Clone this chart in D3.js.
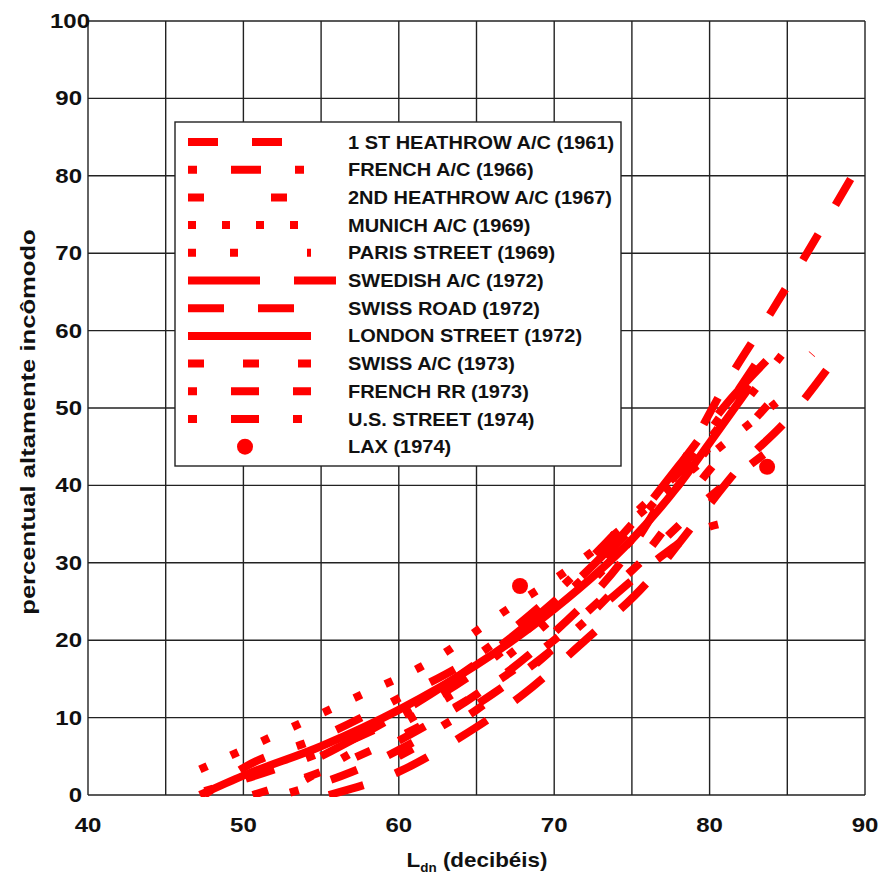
<!DOCTYPE html>
<html>
<head>
<meta charset="utf-8">
<script src="https://cdn.jsdelivr.net/npm/d3@7"></script>
<style>
body { margin: 0; background: #fff; }
text { font-family: Arial, "Liberation Sans", sans-serif; font-weight: bold; fill: #111; }
</style>
</head>
<body>
<div id="chart"></div>
<script>
// values: [Ldn, % highly annoyed]
const heathrow1961 = [[60,7],[65,13],[70,21],[75,32],[78,42],[81.2,53.6],[84,62.5],[89.2,80]];
const frenchAc1966 = [[47.5,0.5],[50,2],[55,5.5],[60,10],[65,16],[70,24.5],[75,34.5],[80,47],[83.4,57]];
const heathrow1967 = [[60,5],[65,11],[70,19],[75,29],[80,42],[84,51],[86.6,57]];
const munich1969 = [[47.2,3.3],[52,7.7],[57,12.4],[62,17.2],[67,24],[70.6,28.7],[75,35.5],[79.1,42.4],[84.3,50.7]];
const parisStreet1969 = [[54,2],[60,9],[65,15],[70,23],[75,33],[80,45],[84.7,57]];
const swedishAc1972 = [[55,5],[60,10.5],[65,17],[70,25],[75,35],[78,42.5],[81.2,50.8],[83.7,56.2]];
const swissRoad1972 = [[55.5,0],[60,3],[64,7.5],[68,13],[72,20],[76,27.5],[79,35],[82,42.5],[85,48.5],[88.3,57]];
const londonStreet1972 = [[47.2,0],[50,2.5],[55,6.3],[60,11],[65,16.8],[70,24],[75,33],[78,40],[80,45.5],[82.5,52.5]];
const swissAc1973 = [[50.6,0],[55,3],[60,7.5],[65,13],[70,20],[75,29],[80,38.5],[83.7,44.3]];
const frenchRr1973 = [[53,0.3],[57,3],[62,8],[66,13],[70,19],[74,26],[77,31],[79.5,34.3],[82.7,35.6]];
const usStreet1974 = [[47.5,0],[50,3.5],[55,7.5],[60,12.5],[65,18],[70,26],[75,36],[80,46],[82.5,53]];
const lax1974 = [[67.8,27],[83.7,42.4]];

const seriesNames = ['1 ST HEATHROW A/C (1961)','FRENCH A/C (1966)','2ND HEATHROW A/C (1967)','MUNICH A/C (1969)',
    'PARIS STREET (1969)','SWEDISH A/C (1972)','SWISS ROAD (1972)','LONDON STREET (1972)',
    'SWISS A/C (1973)','FRENCH RR (1973)','U.S. STREET (1974)','LAX (1974)'];
const seriesValues = [heathrow1961, frenchAc1966, heathrow1967, munich1969, parisStreet1969, swedishAc1972,
    swissRoad1972, londonStreet1972, swissAc1973, frenchRr1973, usStreet1974];
const xTicks = [40,50,60,70,80,90];
const yTicks = [0,10,20,30,40,50,60,70,80,90,100];

// line styles (dash patterns in px)
const dashes = ['30,34','9,34,30,34','16,67','8,26','8,34,8,69','72,34','36,34','none',
    '16,39','9,34,28,34,28,34','9,34,28,34'];

const w = 881, h = 881;
const svg = d3.select('#chart').append('svg').attr('width', w).attr('height', h);

const x = d3.scaleLinear().domain([40, 90]).range([88, 865]);
const y = d3.scaleLinear().domain([0, 100]).range([795, 21]);

// grid
svg.append('g').selectAll('line').data(d3.range(40, 91, 5)).enter().append('line')
    .attr('x1', d => x(d)).attr('x2', d => x(d)).attr('y1', y(0)).attr('y2', y(100))
    .attr('stroke', '#222').attr('stroke-width', 1.4);
svg.append('g').selectAll('line').data(yTicks).enter().append('line')
    .attr('x1', x(40)).attr('x2', x(90)).attr('y1', d => y(d)).attr('y2', d => y(d))
    .attr('stroke', '#222').attr('stroke-width', 1.4);

// tick labels (the reference font is wider than Arial, so stretch it a little)
svg.append('g').selectAll('text').data(xTicks).enter().append('text')
    .attr('transform', d => 'translate(' + x(d) + ',832)scale(1.2,1)')
    .attr('text-anchor', 'middle').style('font-size', '20px').text(d => d);
svg.append('g').selectAll('text').data(yTicks).enter().append('text')
    .attr('transform', d => 'translate(' + (d === 100 ? 90 : 82) + ',' + (y(d) + 7) + ')scale(1.2,1)')
    .attr('text-anchor', 'end').style('font-size', '20px').text(d => d);

// axis titles
const xt = svg.append('text').attr('transform', 'translate(477,867)scale(1.12,1)')
    .attr('text-anchor', 'middle').style('font-size', '20px');
xt.append('tspan').text('L');
xt.append('tspan').attr('dy', 5).style('font-size', '12px').text('dn');
xt.append('tspan').attr('dy', -5).text(' (decibéis)');
svg.append('text').attr('transform', 'translate(35,422)rotate(-90)scale(1.22,1)')
    .attr('text-anchor', 'middle').style('font-size', '21px').text('percentual altamente incômodo');

// curves
svg.append('clipPath').attr('id', 'plot').append('rect')
    .attr('x', x(40)).attr('y', y(100)).attr('width', x(90) - x(40)).attr('height', y(0) - y(100) + 2);
const line = d3.line().x(d => x(d[0])).y(d => y(d[1])).curve(d3.curveMonotoneX);
const plot = svg.append('g').attr('clip-path', 'url(#plot)');
plot.selectAll('path').data(seriesValues).enter().append('path')
    .attr('d', line).attr('fill', 'none').attr('stroke', '#ff0000').attr('stroke-width', 8)
    .attr('stroke-dasharray', (d, i) => dashes[i]);
plot.selectAll('circle').data(lax1974).enter().append('circle')
    .attr('cx', d => x(d[0])).attr('cy', d => y(d[1])).attr('r', 8).attr('fill', '#ff0000');

// legend
const lg = svg.append('g').attr('transform', 'translate(175,122)');
lg.append('rect').attr('width', 446).attr('height', 344).attr('fill', '#fff')
    .attr('stroke', '#222').attr('stroke-width', 1.4);
const rows = lg.selectAll('.row').data(seriesNames).enter().append('g')
    .attr('transform', (d, i) => 'translate(0,' + (20 + i * 27.7) + ')');
rows.filter((d, i) => i < 11).append('line')
    .attr('x1', 13).attr('x2', (d, i) => i === 5 ? 161 : 136)
    .attr('stroke', '#ff0000').attr('stroke-width', 8)
    .attr('stroke-dasharray', (d, i) => dashes[i]);
rows.filter((d, i) => i === 11).append('circle').attr('cx', 70).attr('r', 8).attr('fill', '#ff0000');
rows.append('text').attr('transform', 'translate(173,6.5)scale(1.11,1)')
    .style('font-size', '18px').text(d => d);
</script>
</body>
</html>
